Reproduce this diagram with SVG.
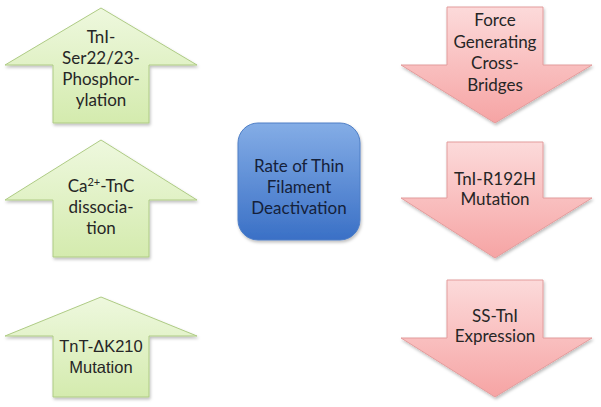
<svg xmlns="http://www.w3.org/2000/svg" width="601" height="407" viewBox="0 0 601 407">
<style>
.t{font-family:Lato,"Open Sans","Liberation Sans",sans-serif;font-size:17px;fill:#262626;text-anchor:middle}
.a{font-family:"Liberation Sans",Arial,sans-serif;font-size:16.5px;fill:#262626;text-anchor:middle}
.c{font-family:Lato,"Open Sans","Liberation Sans",sans-serif;font-size:17px;fill:#15213a;text-anchor:middle}
.g{fill:url(#gg);stroke:#aecb84;stroke-width:1;filter:url(#sh)}
.r{fill:url(#rg);stroke:#e39c9c;stroke-width:1;filter:url(#sh)}
</style>
<defs>
<linearGradient id="gg" x1="0" y1="0" x2="0" y2="1"><stop offset="0" stop-color="#eef8de"/><stop offset="1" stop-color="#d4ebae"/></linearGradient>
<linearGradient id="rg" x1="0" y1="0" x2="0" y2="1"><stop offset="0" stop-color="#fcdada"/><stop offset="1" stop-color="#f6a4a4"/></linearGradient>
<linearGradient id="bg" x1="0" y1="0" x2="0" y2="1"><stop offset="0" stop-color="#84ade6"/><stop offset="1" stop-color="#3a70c6"/></linearGradient>
<filter id="sh" x="-10%" y="-10%" width="120%" height="125%"><feDropShadow dx="1" dy="2" stdDeviation="1.5" flood-color="#000" flood-opacity="0.25"/></filter>
</defs>
<rect width="601" height="407" fill="#fff"/>
<g id="up1"><path class="g" d="M101 8 L197 65 L149 65 L149 123 L53 123 L53 65 L5 65 Z"/>
<text class="t" x="101" y="43">TnI-</text><text class="t" x="101" y="64">Ser22/23-</text><text class="t" x="101" y="85">Phosphor-</text><text class="t" x="101" y="106">ylation</text></g>
<g id="up2"><path class="g" d="M101 140 L197 200 L149 200 L149 257 L53 257 L53 200 L5 200 Z"/>
<text class="t" x="101" y="192">Ca<tspan font-size="11" dy="-6">2+</tspan><tspan dy="6">-TnC</tspan></text><text class="t" x="101" y="213">dissocia-</text><text class="t" x="101" y="234">tion</text></g>
<g id="up3"><path class="g" d="M101 297 L197 336 L149 336 L149 397 L53 397 L53 336 L5 336 Z"/>
<text class="a" x="101" y="352">TnT-ΔK210</text><text class="a" x="101" y="373">Mutation</text></g>
<g id="center"><rect x="238" y="123" width="122" height="117" rx="20" fill="url(#bg)" stroke="#4f7fc6" stroke-width="1" filter="url(#sh)"/>
<text class="c" x="299" y="172">Rate of Thin</text><text class="c" x="299" y="193">Filament</text><text class="c" x="299" y="214">Deactivation</text></g>
<g id="down1"><path class="r" d="M447 7 L543 7 L543 65 L592 65 L495 123 L401 65 L447 65 Z"/>
<text class="t" x="495" y="26">Force</text><text class="t" x="495" y="48">Generating</text><text class="t" x="495" y="69">Cross-</text><text class="t" x="495" y="91">Bridges</text></g>
<g id="down2"><path class="r" d="M447 142 L543 142 L543 198 L592 198 L495 258 L401 198 L447 198 Z"/>
<text class="t" x="495" y="185">TnI-R192H</text><text class="t" x="495" y="205">Mutation</text></g>
<g id="down3"><path class="r" d="M447 280 L543 280 L543 338 L592 338 L495 397 L401 338 L447 338 Z"/>
<text class="t" x="495" y="322">SS-TnI</text><text class="t" x="495" y="342">Expression</text></g>
<g id="connectors"/>
</svg>
